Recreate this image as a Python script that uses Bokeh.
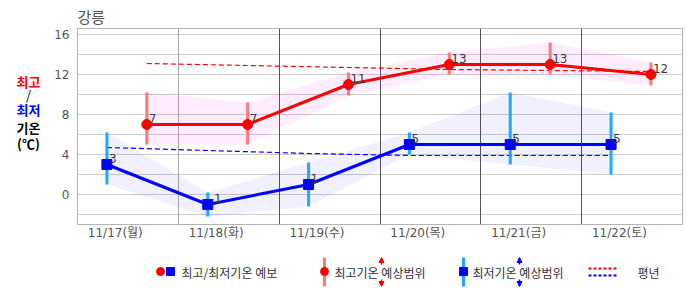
from bokeh.plotting import figure
from bokeh.models import (ColumnDataSource, Range1d, FixedTicker, Grid, LabelSet,
                          Arrow, NormalHead)
from bokeh.layouts import gridplot
from bokeh.core.properties import value
from bokeh.embed import file_html
from bokeh.resources import INLINE

# ---------------- data ----------------
station = "강릉"
days = ["11/17(월)", "11/18(화)", "11/19(수)", "11/20(목)", "11/21(금)", "11/22(토)"]
min_hour = 7.0      # time of daily minimum forecast (h)
max_hour = 16.5     # time of daily maximum forecast (h)
label_hour = 9.0    # time at which the day label sits (h)

max_temp = [7, 7, 11, 13, 13, 12]
max_low = [5.0, 5.0, 9.9, 12.0, 12.0, 10.9]
max_high = [10.2, 9.2, 12.2, 14.2, 15.2, 13.2]

min_temp = [3, -1, 1, 5, 5, 5]
min_low = [1.0, -2.2, -1.2, 4.0, 3.0, 2.0]
min_high = [6.2, 0.2, 3.2, 6.2, 10.2, 8.2]

normal_max = [13.1, 12.9, 12.7, 12.5, 12.4, 12.3]
normal_min = [4.7, 4.4, 4.1, 3.9, 3.9, 3.9]

y_ticks = [0, 4, 8, 12, 16]
y_grid = [-2, 0, 2, 4, 6, 8, 10, 12, 14, 16]

# ---------------- derived ----------------
idx = list(range(len(days)))
max_x = [i + max_hour / 24 for i in idx]
min_x = [i + min_hour / 24 for i in idx]
tick_x = [i + label_hour / 24 for i in idx]

FONT_NUM = "DejaVu Sans, Noto Sans CJK KR"
FONT_KR = "Noto Sans CJK KR"

src_max = ColumnDataSource(dict(x=max_x, y=max_temp, lo=max_low, hi=max_high,
                                nm=normal_max, t=[str(v) for v in max_temp]))
src_min = ColumnDataSource(dict(x=min_x, y=min_temp, lo=min_low, hi=min_high,
                                nm=normal_min, t=[str(v) for v in min_temp]))

CAP_W = 44
BORDER_L, BORDER_R, BORDER_T, BORDER_B = 77 - CAP_W, 4, 28, 23

p = figure(width=686 - CAP_W, height=247, x_range=Range1d(0, len(days)),
           y_range=Range1d(-3, 16.6), output_backend="svg", toolbar_location=None,
           min_border_left=BORDER_L, min_border_right=BORDER_R,
           min_border_top=BORDER_T, min_border_bottom=BORDER_B)
p.background_fill_color = "white"
p.border_fill_color = "white"
p.outline_line_color = "#b4b4b4"

# title
p.title.text = station
p.title.align = "left"
p.title.text_font = FONT_KR
p.title.text_font_size = "15px"
p.title.text_font_style = "normal"
p.title.text_color = "#555555"
p.title.standoff = 4
p.title.offset = 0

# axes
p.xaxis.ticker = FixedTicker(ticks=tick_x)
p.xaxis.major_label_overrides = {t: d for t, d in zip(tick_x, days)}
p.yaxis.ticker = FixedTicker(ticks=y_ticks)
for ax in (p.xaxis[0], p.yaxis[0]):
    ax.axis_line_color = None
    ax.major_tick_line_color = None
    ax.minor_tick_line_color = None
    ax.major_label_text_font = FONT_NUM
    ax.major_label_text_font_size = "12px"
    ax.major_label_text_color = "#555555"
p.xaxis.major_label_standoff = -5
p.yaxis.major_label_standoff = 2

# grids
p.xgrid.visible = False
p.ygrid.ticker = FixedTicker(ticks=y_grid)
p.ygrid.grid_line_color = "#cccccc"
p.add_layout(Grid(dimension=0, ticker=FixedTicker(ticks=[1]), grid_line_color="#a8a8a8"))
p.add_layout(Grid(dimension=0, ticker=FixedTicker(ticks=[2, 3, 4, 5]), grid_line_color="#555555"))

# bands
p.varea(x="x", y1="lo", y2="hi", source=src_max, fill_color="#ff00ff", fill_alpha=0.07)
p.varea(x="x", y1="lo", y2="hi", source=src_min, fill_color="#0000ff", fill_alpha=0.06)

# normals
p.line(x="x", y="nm", source=src_max, line_color="#ff0000", line_width=1.2, line_dash="5 3")
p.line(x="x", y="nm", source=src_min, line_color="#0000ff", line_width=1.2, line_dash="5 3")

# range bars
p.segment(x0="x", y0="lo", x1="x", y1="hi", source=src_max, line_color="#ff7878", line_width=3)
p.segment(x0="x", y0="lo", x1="x", y1="hi", source=src_min, line_color="#1eaaff", line_width=3)

# main lines
p.line(x="x", y="y", source=src_max, line_color="#ff0000", line_width=3)
p.line(x="x", y="y", source=src_min, line_color="#0000ff", line_width=3)
p.scatter(x="x", y="y", source=src_max, marker="circle", size=10,
          fill_color="#ff0000", line_color="#ff0000")
p.scatter(x="x", y="y", source=src_min, marker="square", size=10,
          fill_color="#0000ff", line_color="#0000ff")

# value labels
for s in (src_max, src_min):
    p.add_layout(LabelSet(x="x", y="y", text="t", source=s, x_offset=2, y_offset=2,
                          text_font=value("DejaVu Sans"), text_font_size=value("12px"),
                          text_color="#3a3a3a", text_baseline="alphabetic"))

# ---------------- left caption strip (window pixel coordinates) ----------------
cap = figure(width=CAP_W, height=247, x_range=Range1d(0, CAP_W), y_range=Range1d(224, 28),
             output_backend="svg", toolbar_location=None, min_border_left=0,
             min_border_right=0, min_border_top=BORDER_T, min_border_bottom=BORDER_B)
cap.axis.visible = False
cap.grid.visible = False
cap.outline_line_color = None
cap.background_fill_color = "white"
cap.border_fill_color = "white"
cap_items = [("최고", 81, "#ff0000", "bold"), ("/", 94, "#000000", "normal"),
             ("최저", 109, "#0000ff", "bold"), ("기온", 127, "#000000", "bold"),
             ("(℃)", 143, "#000000", "bold")]
for txt, yy, col, st in cap_items:
    cap.text(x=[28], y=[yy], text=[txt], text_align="center", text_baseline="middle",
             text_font=value(FONT_KR), text_font_size=value("13px"), text_color=col,
             text_font_style=st)

# ---------------- legend strip (window pixel coordinates) ----------------
lg = figure(width=686 - CAP_W, height=48, x_range=Range1d(77, 682), y_range=Range1d(295, 247),
            output_backend="svg", toolbar_location=None, min_border_left=BORDER_L,
            min_border_right=BORDER_R, min_border_top=0, min_border_bottom=0)
lg.axis.visible = False
lg.grid.visible = False
lg.outline_line_color = None
lg.background_fill_color = "white"
lg.border_fill_color = "white"

ly = 271
txt_kw = dict(text_font=value(FONT_KR), text_font_size=value("12px"),
              text_color="#333333", text_baseline="middle", text_align="left")

lg.scatter(x=[160], y=[ly], marker="circle", size=8, color="#ff0000")
lg.scatter(x=[170], y=[ly], marker="square", size=8, color="#0000ff")
lg.text(x=[181], y=[ly + 1], text=["최고/최저기온 예보"], **txt_kw)

lg.segment(x0=[324], y0=[257], x1=[324], y1=[286], line_color="#ff7878", line_width=3)
lg.scatter(x=[324], y=[ly], marker="circle", size=8, color="#ff0000")
lg.text(x=[334], y=[ly + 1], text=["최고기온 예상범위"], **txt_kw)

lg.segment(x0=[463], y0=[257], x1=[463], y1=[286], line_color="#1eaaff", line_width=3)
lg.scatter(x=[463], y=[ly], marker="square", size=8, color="#0000ff")
lg.text(x=[472], y=[ly + 1], text=["최저기온 예상범위"], **txt_kw)

for ax_, col in [(381, "#ff0000"), (519, "#0000ff")]:
    lg.add_layout(Arrow(x_start=ax_, y_start=264, x_end=ax_, y_end=257, line_color=col,
                        line_width=1.5, end=NormalHead(size=5, fill_color=col, line_color=col)))
    lg.add_layout(Arrow(x_start=ax_, y_start=279, x_end=ax_, y_end=286, line_color=col,
                        line_width=1.5, end=NormalHead(size=5, fill_color=col, line_color=col)))

lg.segment(x0=[588], y0=[268], x1=[616], y1=[268], line_color="#ff0000", line_width=2, line_dash="3 2")
lg.segment(x0=[588], y0=[275], x1=[616], y1=[275], line_color="#0000ff", line_width=2, line_dash="3 2")
lg.text(x=[637], y=[ly + 1], text=["평년"], **txt_kw)

layout = gridplot([[cap, p], [None, lg]], toolbar_location=None)
open("out.html", "w").write(file_html(layout, INLINE))
